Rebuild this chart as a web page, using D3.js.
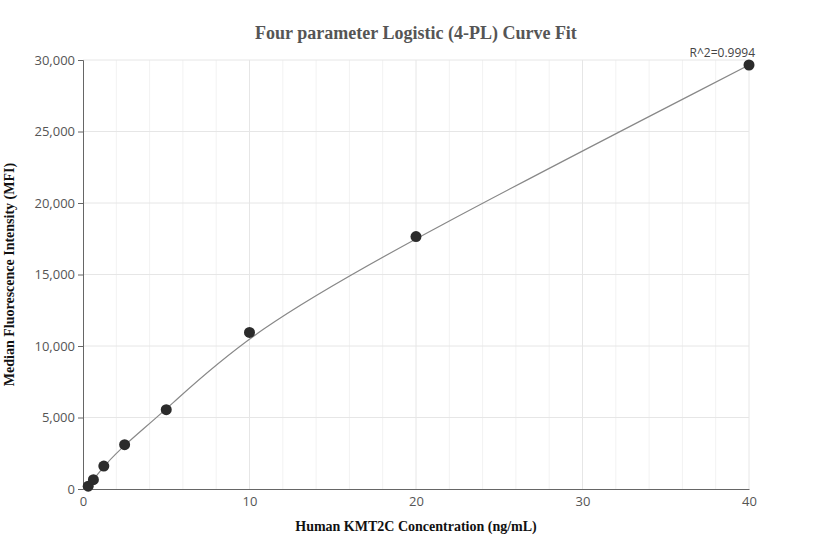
<!DOCTYPE html>
<html><head><meta charset="utf-8">
<script src="https://cdn.jsdelivr.net/npm/d3@7"></script>
<style>body{margin:0;background:#fff}</style>
</head><body><svg id="c" width="832" height="560"></svg>
<script>
const concentrations = [0.3125, 0.625, 1.25, 2.5, 5, 10, 20, 40];
const mfiValues = [200, 650, 1600, 3100, 5550, 10950, 17650, 29650];
const xTicks = [0, 10, 20, 30, 40];
const yTicks = [0, 5000, 10000, 15000, 20000, 25000, 30000];

const svg = d3.select("#c");
const m = { left: 83, right: 83, top: 60, bottom: 71 };
const W = 832, H = 560;
const x = d3.scaleLinear().domain([0, 40]).range([m.left, W - m.right]);
const y = d3.scaleLinear().domain([0, 30000]).range([H - m.bottom, m.top]);

const grid = svg.append("g");
grid.selectAll(".vx").data(d3.range(2, 41, 2)).join("line")
  .attr("x1", d => x(d)).attr("x2", d => x(d)).attr("y1", y(0)).attr("y2", y(30000))
  .attr("stroke", d => d % 10 === 0 ? "#e6e6e6" : "#f2f2f2");
grid.selectAll(".hy").data(yTicks.slice(1)).join("line")
  .attr("x1", x(0)).attr("x2", x(40)).attr("y1", d => y(d)).attr("y2", d => y(d))
  .attr("stroke", "#e6e6e6");

const fmt = d3.format(",");
const xa = svg.append("g").attr("transform", `translate(0,${y(0)})`)
  .call(d3.axisBottom(x).tickValues(xTicks).tickSize(0).tickPadding(8));
const ya = svg.append("g").attr("transform", `translate(${x(0)},0)`)
  .call(d3.axisLeft(y).tickValues(yTicks).tickFormat(fmt).tickSize(5).tickPadding(3));
[xa, ya].forEach(a => {
  a.select(".domain").attr("stroke", "#666");
  a.selectAll("line").attr("stroke", "#666");
  a.selectAll("text").attr("fill", "#555").style("font", "13px 'Open Sans', sans-serif");
});

svg.append("path").datum(concentrations.map((c, i) => [c, mfiValues[i]]))
  .attr("fill", "none").attr("stroke", "#888").attr("stroke-width", 1.2)
  .attr("d", d3.line().x(d => x(d[0])).y(d => y(d[1])).curve(d3.curveBasis));

svg.selectAll("circle").data(concentrations).join("circle")
  .attr("cx", d => x(d)).attr("cy", (d, i) => y(mfiValues[i])).attr("r", 5.5)
  .attr("fill", "#2b2b2b");

svg.append("text").attr("x", x(40) + 6).attr("y", y(29650) - 8).attr("text-anchor", "end")
  .attr("fill", "#444").style("font", "12px 'Open Sans', sans-serif").text("R^2=0.9994");

svg.append("text").attr("x", 416).attr("y", 39).attr("text-anchor", "middle")
  .attr("fill", "#555").style("font", "bold 18px 'Liberation Serif', serif")
  .text("Four parameter Logistic (4-PL) Curve Fit");
svg.append("text").attr("x", 416).attr("y", 531).attr("text-anchor", "middle")
  .attr("fill", "#111").style("font", "bold 14px 'Liberation Serif', serif")
  .text("Human KMT2C Concentration (ng/mL)");
svg.append("text").attr("transform", `translate(14,${(y(0) + y(30000)) / 2}) rotate(-90)`)
  .attr("text-anchor", "middle").attr("fill", "#111")
  .style("font", "bold 14px 'Liberation Serif', serif")
  .text("Median Fluorescence Intensity (MFI)");
</script></body></html>
